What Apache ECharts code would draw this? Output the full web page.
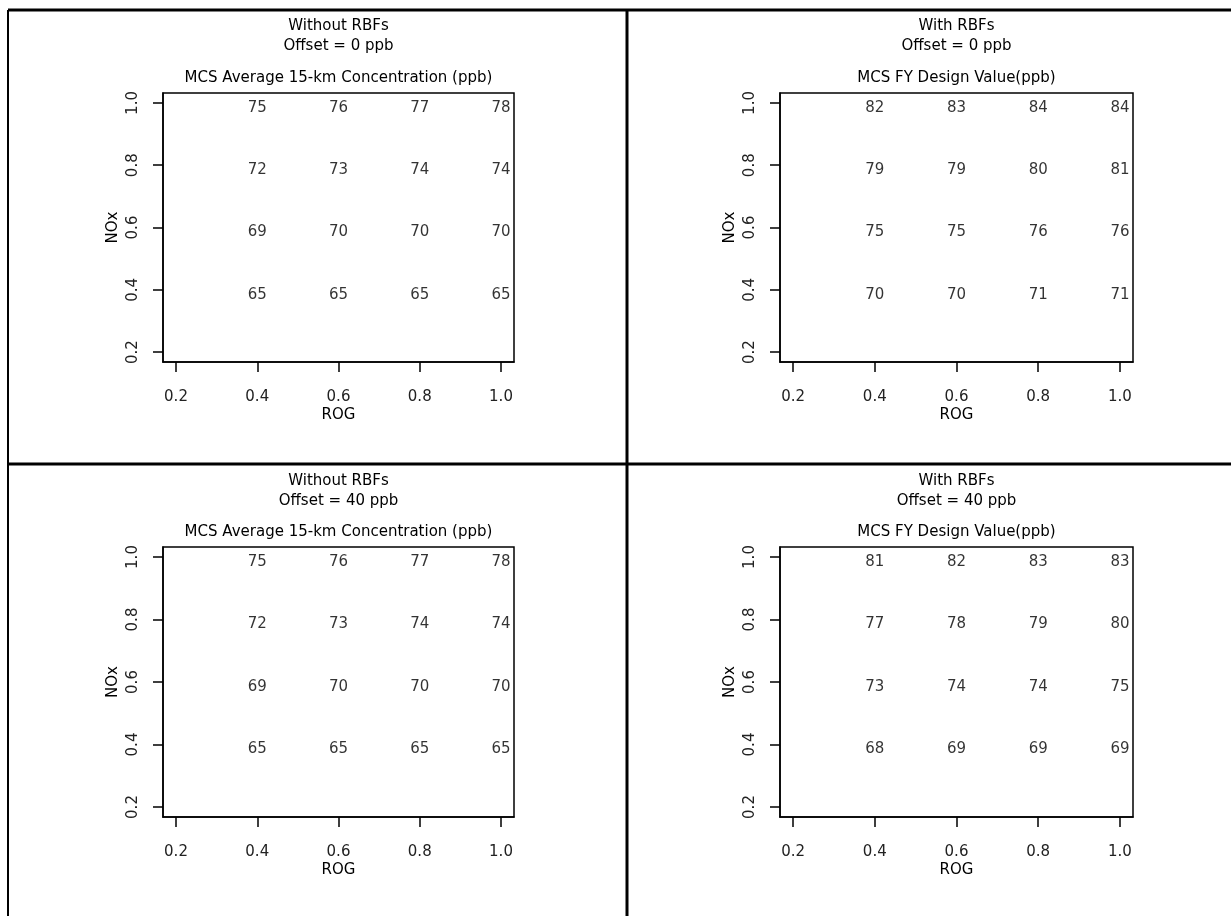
<!DOCTYPE html>
<html><head><meta charset="utf-8">
<script src="https://cdn.jsdelivr.net/npm/echarts@6/dist/echarts.min.js"></script>
<style>html,body{margin:0;padding:0;background:#fff}#c{width:1231px;height:916px}</style>
</head><body><div id="c"></div>
<script>
// ---- data ----
const rogValues = [0.4, 0.6, 0.8, 1.0];          // x positions of the values (ROG)
const noxValues = [1.0, 0.8, 0.6, 0.4];          // y positions (NOx), one row each
const tickValues = [0.2, 0.4, 0.6, 0.8, 1.0];
const tickLabels = ['0.2', '0.4', '0.6', '0.8', '1.0'];
const panelTitles = ['Without RBFs\nOffset = 0 ppb', 'With RBFs\nOffset = 0 ppb', 'Without RBFs\nOffset = 40 ppb', 'With RBFs\nOffset = 40 ppb'];
const panelSubtitles = ['MCS Average 15-km Concentration (ppb)', 'MCS FY Design Value(ppb)', 'MCS Average 15-km Concentration (ppb)', 'MCS FY Design Value(ppb)'];
const withoutOffset0 = [[75, 76, 77, 78], [72, 73, 74, 74], [69, 70, 70, 70], [65, 65, 65, 65]];
const withOffset0    = [[82, 83, 84, 84], [79, 79, 80, 81], [75, 75, 76, 76], [70, 70, 71, 71]];
const withoutOffset40 = [[75, 76, 77, 78], [72, 73, 74, 74], [69, 70, 70, 70], [65, 65, 65, 65]];
const withOffset40    = [[81, 82, 83, 83], [77, 78, 79, 80], [73, 74, 74, 75], [68, 69, 69, 69]];
const panelValues = [withoutOffset0, withOffset0, withoutOffset40, withOffset40];
const axisMin = 0.168, axisMax = 1.032;

// ---- layout ----
const FONT = "'DejaVu Sans', 'Liberation Sans', Arial, sans-serif";
const FS = 15;
const grids = [
  {left: 163, top: 93, width: 351, height: 269},
  {left: 780, top: 93, width: 353, height: 269},
  {left: 163, top: 547, width: 351, height: 270},
  {left: 780, top: 547, width: 353, height: 270}
];
const titleTops = [[16, 69], [16, 69], [471, 523], [471, 523]];

const chart = echarts.init(document.getElementById('c'), null, {renderer: 'canvas'});
const option = {
  backgroundColor: '#fff',
  animation: false,
  textStyle: {fontFamily: FONT},
  title: [],
  grid: [], xAxis: [], yAxis: [], series: [],
  graphic: []
};
const tickFmt = v => { const i = tickValues.findIndex(t => Math.abs(t - v) < 1e-9); return i >= 0 ? tickLabels[i] : ''; };
grids.forEach((g, p) => {
  const cx = g.left + g.width / 2;
  option.grid.push(Object.assign({show: true, borderColor: '#000', borderWidth: 1.5, backgroundColor: 'transparent', containLabel: false}, g));
  option.title.push({text: panelTitles[p], left: cx, top: titleTops[p][0], textAlign: 'center', padding: 0,
    textStyle: {fontFamily: FONT, fontSize: FS, fontWeight: 'normal', color: '#000', lineHeight: 20}});
  option.title.push({text: panelSubtitles[p], left: cx, top: titleTops[p][1], textAlign: 'center', padding: 0,
    textStyle: {fontFamily: FONT, fontSize: FS, fontWeight: 'normal', color: '#000', lineHeight: 18}});
  const axisCommon = {
    type: 'value', gridIndex: p, min: axisMin, max: axisMax,
    splitLine: {show: false},
    axisLine: {show: true, onZero: false, lineStyle: {color: '#000', width: 1.5}},
    axisTick: {show: true, length: 10, inside: false, customValues: tickValues, lineStyle: {color: '#000', width: 1.5}},
    nameTextStyle: {fontFamily: FONT, fontSize: FS, color: '#000'},
    nameLocation: 'middle'
  };
  option.xAxis.push(Object.assign({}, axisCommon, {
    position: 'bottom', name: 'ROG', nameGap: 46,
    axisLabel: {show: true, customValues: tickValues, formatter: tickFmt, margin: 28, fontFamily: FONT, fontSize: FS, color: '#222'}
  }));
  option.yAxis.push(Object.assign({}, axisCommon, {
    position: 'left', name: 'NOx', nameGap: 42, nameRotate: 90,
    axisLabel: {show: true, customValues: tickValues, formatter: tickFmt, rotate: 90, margin: 22, fontFamily: FONT, fontSize: FS, color: '#222'}
  }));
  const data = [];
  panelValues[p].forEach((row, r) => row.forEach((v, c) => data.push([rogValues[c], noxValues[r], v])));
  option.series.push({
    type: 'scatter', xAxisIndex: p, yAxisIndex: p, data: data,
    symbolSize: 1, itemStyle: {color: 'rgba(0,0,0,0)'}, silent: true,
    label: {show: true, position: 'inside', offset: [0, 5], formatter: d => String(d.value[2]),
      fontFamily: FONT, fontSize: FS, color: '#000'}
  });
});
// panel frame lines
const lineStyle = {stroke: '#000', lineWidth: 3};
option.graphic = [
  {type: 'line', shape: {x1: 8, y1: 10, x2: 1231, y2: 10}, style: lineStyle, silent: true},
  {type: 'line', shape: {x1: 8, y1: 10, x2: 8, y2: 916}, style: {stroke: '#000', lineWidth: 2}, silent: true},
  {type: 'line', shape: {x1: 627, y1: 10, x2: 627, y2: 916}, style: lineStyle, silent: true},
  {type: 'line', shape: {x1: 8, y1: 464, x2: 1231, y2: 464}, style: lineStyle, silent: true}
];
chart.setOption(option);
</script>
</body></html>
